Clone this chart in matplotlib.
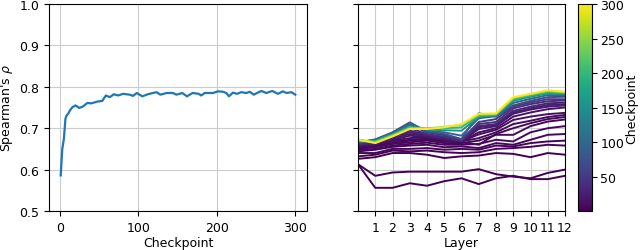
import matplotlib
matplotlib.use("Agg")
import matplotlib.pyplot as plt
from matplotlib.colors import Normalize
from matplotlib.cm import ScalarMappable

plt.rcParams["font.size"] = 9

# ---- left panel: overall Spearman's rho per checkpoint ----
ckpts = [1, 2, 3, 4, 5, 7, 8.5, 10.6, 12.7, 16, 20, 24.6, 29, 35, 40, 47, 54, 58.5,
         63.6, 68.7, 74, 80.6, 89, 93, 98, 105, 112, 123, 128, 136, 144, 148.5, 156,
         162, 169, 177, 180, 184.6, 195, 201.5, 208, 212, 215.5, 220.6, 225.7, 231,
         237.6, 242, 247, 256.7, 263, 270.7, 278, 284, 289, 295, 300]
rho = [0.586, 0.620, 0.650, 0.662, 0.674, 0.723, 0.731, 0.735, 0.743, 0.751, 0.755,
       0.749, 0.752, 0.761, 0.760, 0.764, 0.766, 0.779, 0.775, 0.782, 0.779, 0.783,
       0.781, 0.778, 0.785, 0.777, 0.782, 0.787, 0.781, 0.785, 0.785, 0.781, 0.785,
       0.777, 0.785, 0.783, 0.779, 0.785, 0.785, 0.789, 0.788, 0.785, 0.777, 0.786,
       0.783, 0.787, 0.785, 0.788, 0.781, 0.790, 0.785, 0.790, 0.783, 0.789, 0.785,
       0.787, 0.781]

# ---- right panel: per-layer rho for selected checkpoints ----
layers = list(range(13))
layer_ckpts = [1, 2, 3, 4, 5, 6, 7, 8, 9, 10, 12, 15, 20, 25, 30, 40, 50, 70,
               100, 150, 200, 250, 300]
layer_rho = [
    [0.613, 0.556, 0.556, 0.567, 0.561, 0.572, 0.579, 0.565, 0.579, 0.585, 0.577, 0.577, 0.585],
    [0.613, 0.585, 0.593, 0.595, 0.595, 0.595, 0.595, 0.601, 0.589, 0.583, 0.579, 0.592, 0.600],
    [0.626, 0.630, 0.640, 0.640, 0.636, 0.628, 0.632, 0.634, 0.640, 0.638, 0.630, 0.640, 0.636],
    [0.632, 0.636, 0.646, 0.644, 0.646, 0.642, 0.640, 0.642, 0.650, 0.652, 0.655, 0.660, 0.658],
    [0.640, 0.640, 0.650, 0.650, 0.652, 0.648, 0.650, 0.648, 0.658, 0.656, 0.664, 0.668, 0.670],
    [0.644, 0.648, 0.655, 0.658, 0.660, 0.654, 0.656, 0.652, 0.664, 0.660, 0.672, 0.684, 0.686],
    [0.647, 0.650, 0.658, 0.662, 0.665, 0.660, 0.660, 0.662, 0.672, 0.668, 0.690, 0.700, 0.705],
    [0.650, 0.654, 0.662, 0.666, 0.670, 0.664, 0.664, 0.670, 0.684, 0.684, 0.705, 0.716, 0.721],
    [0.652, 0.656, 0.665, 0.670, 0.672, 0.668, 0.666, 0.660, 0.686, 0.700, 0.712, 0.722, 0.727],
    [0.655, 0.658, 0.668, 0.672, 0.675, 0.670, 0.668, 0.676, 0.690, 0.710, 0.718, 0.727, 0.732],
    [0.657, 0.660, 0.670, 0.676, 0.678, 0.672, 0.668, 0.685, 0.696, 0.720, 0.728, 0.734, 0.737],
    [0.657, 0.660, 0.672, 0.682, 0.678, 0.672, 0.668, 0.690, 0.700, 0.728, 0.738, 0.746, 0.750],
    [0.658, 0.662, 0.675, 0.686, 0.680, 0.674, 0.668, 0.698, 0.705, 0.735, 0.745, 0.752, 0.755],
    [0.660, 0.664, 0.678, 0.690, 0.682, 0.676, 0.668, 0.702, 0.708, 0.738, 0.748, 0.756, 0.758],
    [0.660, 0.665, 0.680, 0.694, 0.684, 0.678, 0.670, 0.705, 0.710, 0.742, 0.752, 0.760, 0.762],
    [0.662, 0.668, 0.684, 0.700, 0.686, 0.680, 0.670, 0.710, 0.715, 0.748, 0.758, 0.765, 0.767],
    [0.663, 0.670, 0.688, 0.708, 0.690, 0.683, 0.672, 0.715, 0.722, 0.752, 0.762, 0.770, 0.770],
    [0.665, 0.673, 0.690, 0.714, 0.692, 0.686, 0.674, 0.736, 0.728, 0.755, 0.766, 0.775, 0.776],
    [0.666, 0.672, 0.688, 0.710, 0.694, 0.690, 0.682, 0.724, 0.729, 0.761, 0.771, 0.780, 0.780],
    [0.668, 0.670, 0.686, 0.705, 0.697, 0.695, 0.694, 0.727, 0.731, 0.766, 0.776, 0.784, 0.783],
    [0.670, 0.668, 0.684, 0.702, 0.699, 0.700, 0.702, 0.730, 0.733, 0.770, 0.779, 0.787, 0.785],
    [0.673, 0.666, 0.682, 0.700, 0.700, 0.703, 0.708, 0.733, 0.734, 0.773, 0.782, 0.790, 0.787],
    [0.672, 0.664, 0.680, 0.698, 0.698, 0.702, 0.710, 0.735, 0.736, 0.775, 0.783, 0.792, 0.788],
]

y_ticks = [0.5, 0.6, 0.7, 0.8, 0.9, 1.0]
cbar_ticks = [50, 100, 150, 200, 250, 300]

fig = plt.figure(figsize=(6.4, 2.51), dpi=100)
ax1 = fig.add_axes([49/640, 39/251, 258/640, 207/251])
ax2 = fig.add_axes([358/640, 39/251, 207/640, 207/251])
cax = fig.add_axes([578/640, 39/251, 14/640, 207/251])

grid_kw = dict(color="#cccccc", linewidth=0.8)

ax1.plot(ckpts, rho, color="#1f77b4", linewidth=1.6)
ax1.set_ylim(0.5, 1.0)
ax1.set_yticks(y_ticks)
ax1.set_xticks([0, 100, 200, 300])
ax1.set_xlabel("Checkpoint", labelpad=2)
ax1.set_ylabel("Spearman's $\\rho$", labelpad=3)
ax1.grid(True, **grid_kw)
ax1.set_axisbelow(True)

norm = Normalize(vmin=1, vmax=300)
cmap = plt.get_cmap("viridis")
for ck, vals in zip(layer_ckpts, layer_rho):
    ax2.plot(layers, vals, color=cmap(norm(ck)), linewidth=1.4)
ax2.set_xlim(0, 12)
ax2.set_ylim(0.5, 1.0)
ax2.set_yticks(y_ticks)
ax2.set_yticklabels([])
ax2.set_xticks(list(range(1, 13)))
ax2.set_xlabel("Layer", labelpad=2)
ax2.grid(True, **grid_kw)
ax2.set_axisbelow(True)

sm = ScalarMappable(norm=norm, cmap=cmap)
cb = fig.colorbar(sm, cax=cax, ticks=cbar_ticks)
cax.tick_params(pad=2.5)
cb.set_label("Checkpoint", labelpad=1)
cb.outline.set_linewidth(0.8)

fig.savefig("out.png", dpi=100)
